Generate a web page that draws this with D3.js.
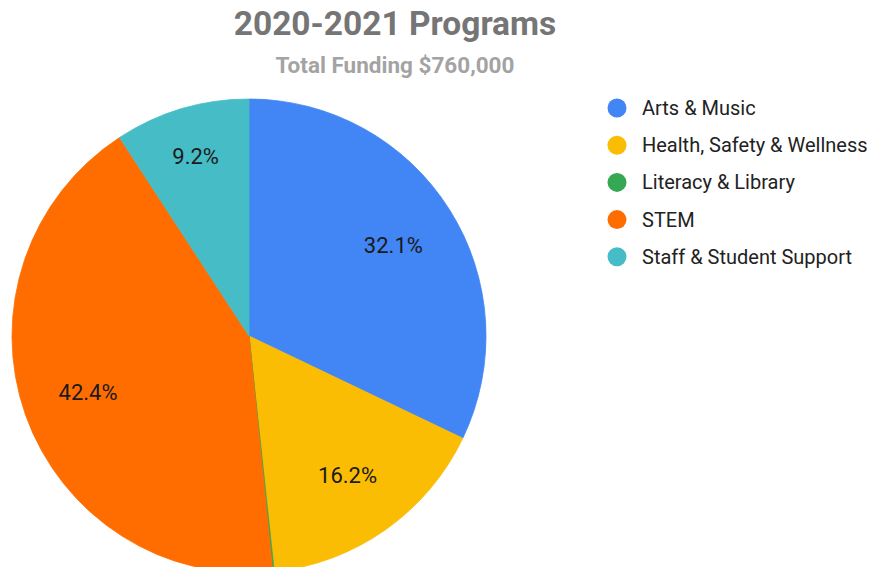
<!DOCTYPE html>
<html>
<head>
<meta charset="utf-8">
<script src="https://cdn.jsdelivr.net/npm/d3@7"></script>
<style>
  body { margin: 0; background: #fff; }
  svg { display: block; font-family: Roboto, "Noto Sans", sans-serif; }
</style>
</head>
<body>
<svg id="chart" width="873" height="567"></svg>
<script>
// data (percent of total)
var categories = ["Arts & Music", "Health, Safety & Wellness", "Literacy & Library", "STEM", "Staff & Student Support"];
var shares = [32.1, 16.2, 0.1, 42.4, 9.2];
var colors = ["#4285f4", "#fbbc04", "#34a853", "#ff6d01", "#46bdc6"];
var titleText = "2020-2021 Programs";
var subtitleText = "Total Funding $760,000";

var config = { cx: 249, cy: 336, r: 237 };

var svg = d3.select("#chart");

// titles
svg.append("text")
  .attr("x", 395).attr("y", 35)
  .attr("text-anchor", "middle")
  .attr("font-size", 33.5).attr("font-weight", "bold")
  .attr("fill", "#757575")
  .text(titleText);
svg.append("text")
  .attr("x", 395).attr("y", 73)
  .attr("text-anchor", "middle")
  .attr("font-size", 22.5).attr("font-weight", "bold")
  .attr("fill", "#a3a3a3")
  .text(subtitleText);

var rows = categories.map(function(c, i) { return { name: c, value: shares[i], color: colors[i] }; });

var pie = d3.pie().sort(null).value(function(d) { return d.value; });
var arc = d3.arc().innerRadius(0).outerRadius(config.r);
var total = d3.sum(shares);

var g = svg.append("g").attr("transform", "translate(" + config.cx + "," + config.cy + ")");
var arcs = pie(rows);

g.selectAll("path.slice")
  .data(arcs)
  .enter()
  .append("path")
  .attr("class", "slice")
  .attr("d", arc)
  .attr("fill", function(d) { return d.data.color; })
  .attr("stroke", function(d) { return d.data.color; })
  .attr("stroke-width", 0.8);

// slice labels, smaller slices pushed a bit further out
g.selectAll("text.lbl")
  .data(arcs.filter(function(d) { return d.data.value / total > 0.05; }))
  .enter()
  .append("text")
  .attr("class", "lbl")
  .attr("transform", function(d) {
    var f = d.data.value / total < 0.12 ? 0.79 : 0.72;
    var a = (d.startAngle + d.endAngle) / 2;
    return "translate(" + (Math.sin(a) * config.r * f) + "," + (-Math.cos(a) * config.r * f) + ")";
  })
  .attr("text-anchor", "middle")
  .attr("dy", "0.35em")
  .attr("font-size", 22)
  .attr("fill", "#1a1a1a")
  .text(function(d) { return (d.data.value / total * 100).toFixed(1) + "%"; });

// legend
var leg = svg.append("g").attr("transform", "translate(617,108)");
var items = leg.selectAll("g.item")
  .data(rows)
  .enter()
  .append("g")
  .attr("class", "item")
  .attr("transform", function(d, i) { return "translate(0," + (i * 37.2) + ")"; });
items.append("circle").attr("r", 9.5).attr("fill", function(d) { return d.color; });
items.append("text")
  .attr("x", 25).attr("dy", "0.35em")
  .attr("font-size", 20)
  .attr("fill", "#222")
  .text(function(d) { return d.name; });
</script>
</body>
</html>
